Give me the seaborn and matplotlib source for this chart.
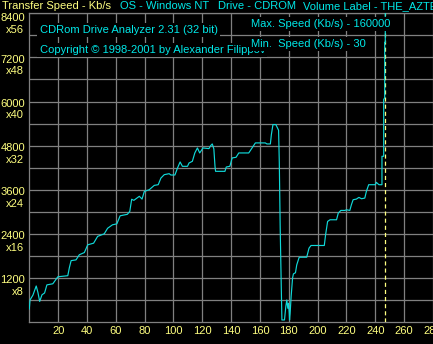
import matplotlib
matplotlib.use("Agg")
import matplotlib.pyplot as plt
import seaborn as sns
import pandas as pd

# ---- data ----
position = [0, 0.5, 2.5, 4.8, 6, 7.2, 8.8, 10.6, 12.2, 16.3, 19.8, 26.7, 27.8, 29, 32.4, 34.7,
            38.2, 40.5, 44.6, 47.4, 52, 54.3, 57.7, 60.7, 63, 68, 69.7, 71, 72.5, 76.3, 78.2,
            79.8, 83.2, 86.7, 89.4, 91.3, 93.6, 97, 98.2, 101, 102.8, 104.6, 106.2, 109.7,
            110.8, 113.1, 114.8, 116.6, 118.2, 120.5, 124.6, 125.8, 126.9, 128, 128.8, 129.2,
            135.7, 136.6, 139.1, 140.7, 143.4, 145.3, 152.2, 154.5, 156.8, 163.7, 164.8, 167.2,
            167.9, 169, 171, 172.9, 173.4, 174, 174.8, 175.2, 177, 177.9, 178.6, 179.3, 179.8,
            180.3, 180.5, 180.9, 181.6, 182.6, 183.2, 184.6, 185.5, 187.2, 192.4, 194, 195.4,
            204.6, 205.5, 206.9, 208.6, 213.1, 214.3, 216.1, 218.9, 220, 222.3, 223.4, 224.6,
            226.9, 228.6, 230.4, 232.7, 233.8, 235.4, 240, 240.7, 242.5, 244.6, 244.6, 245.8,
            245.8, 246.5, 246.5, 246.9, 246.9]
speed = [350, 600, 730, 980, 800, 560, 740, 790, 1010, 1040, 1230, 1260, 1480, 1670, 1690, 1830,
         1890, 2100, 2145, 2330, 2400, 2550, 2645, 2670, 2890, 2930, 3010, 3340, 3310, 3420, 3345,
         3554, 3600, 3718, 3736, 3918, 4009, 4036, 4000, 4000, 4191, 4355, 4236, 4236,
         4327, 4373, 4600, 4736, 4600, 4736, 4718, 4800, 4845, 4709, 4236, 4100,
         4100, 4218, 4236, 4464, 4482, 4600, 4600, 4736, 4873, 4873, 4845, 4845,
         5100, 5372, 5372, 5218, 4327, 2600, 873, 55, 55, 418, 600, 373, 509,
         236, 55, 236, 691, 1200, 1309, 1340, 1554, 1763, 1763, 2009, 2082,
         2082, 2373, 2736, 2782, 2782, 2964, 3036, 3036, 3054, 3036, 3190, 3327,
         3345, 3391, 3354, 3372, 3554, 3736, 3736, 3800, 3736, 3736, 4509, 4509,
         6054, 6100, 7609, 7609, 160000]

x_ticks = [20, 40, 60, 80, 100, 120, 140, 160, 180, 200, 220, 240, 260, 280]
y_values = [1200, 2400, 3600, 4800, 6000, 7200, 8400]
y_labels = ["1200", "2400", "3600", "4800", "6000", "7200", "8400"]
y_mult = ["x8", "x16", "x24", "x32", "x40", "x48", "x56"]
end_marker = 246.9

header = ["Transfer Speed - Kb/s", "OS - Windows NT", "Drive - CDROM", "Volume Label - THE_AZTEC"]
title_lines = ["CDRom Drive Analyzer 2.31 (32 bit)", "Copyright \u00a9 1998-2001 by Alexander Filippov"]
speed_info = ["Max. Speed (Kb/s) - 160000", "Min.  Speed (Kb/s) - 30"]

# ---- style ----
sns.set_style("dark")
plt.rcParams['font.family'] = ['Liberation Sans', 'DejaVu Sans']
YEL = "#ffff80"
CY = "#00e8e8"
LINE = "#10d8d8"
GRID = "#808080"
FS = 8

W, H = 433, 344
fig = plt.figure(figsize=(W / 100, H / 100), dpi=100, facecolor="black")
x0, ybot, ytop = 29.3, 322.0, 13.3
ax = fig.add_axes([x0 / W, (H - ybot) / H, 1 - x0 / W, (ybot - ytop) / H])
ax.set_facecolor("black")

df = pd.DataFrame({"position": position, "speed": speed})
sns.lineplot(data=df, x="position", y="speed", sort=False, estimator=None,
             color=LINE, lw=0.85, ax=ax, zorder=4)
ax.axvline(end_marker, ymin=0, ymax=1, color=YEL, lw=0.9, ls=(0, (3.3, 2.4)), zorder=3)

ax.set_xlim(0, (W - x0) / 1.45)
ax.set_ylim(0, 8400)
ax.set_xticks(x_ticks)
ax.set_xticklabels([str(v) for v in x_ticks], color=YEL, fontsize=FS)
ax.set_yticks(list(range(600, 8401, 600)))
ax.set_yticklabels([])
ax.tick_params(axis="both", length=0, pad=3.2)
ax.grid(True, color=GRID, lw=0.9, zorder=1)
ax.set_axisbelow(True)
ax.set_xlabel("")
ax.set_ylabel("")
for s in ["left", "bottom", "top"]:
    ax.spines[s].set_visible(True)
    ax.spines[s].set_color(GRID)
    ax.spines[s].set_linewidth(0.9)
ax.spines["right"].set_visible(False)

# y labels
for i, (v, lab, m) in enumerate(zip(y_values, y_labels, y_mult)):
    if v == 8400:
        off1, off2 = -5.3, -14.4
    else:
        off1, off2 = -3.9, -12.2
    ax.annotate(lab, xy=(25 / W, v), xycoords=("figure fraction", "data"),
                xytext=(0, off1), textcoords="offset points", ha="right", va="baseline",
                color=YEL, fontsize=FS, annotation_clip=False)
    ax.annotate(m, xy=(24 / W, v), xycoords=("figure fraction", "data"),
                xytext=(0, off2), textcoords="offset points", ha="right", va="baseline",
                color=YEL, fontsize=FS, annotation_clip=False)

def ftext(px, py, s, color, box=False):
    kw = dict(ha="left", va="baseline", color=color, fontsize=FS, zorder=6)
    if box:
        kw["bbox"] = dict(facecolor="black", edgecolor="none", pad=1.5)
    fig.text(px / W, 1 - py / H, s, **kw)

# header
ftext(2, 9, header[0], YEL)
ftext(120, 9, header[1], CY)
ftext(218, 9, header[2], CY)
ftext(303, 9, header[3], CY)

ftext(39.5, 33.3, title_lines[0], CY, box=True)
ftext(39.5, 53.3, title_lines[1], CY, box=True)
ftext(250.7, 26.7, speed_info[0], CY, box=True)
ftext(250.7, 46.7, speed_info[1], CY, box=True)

fig.savefig("out.png", dpi=100, facecolor="black")
